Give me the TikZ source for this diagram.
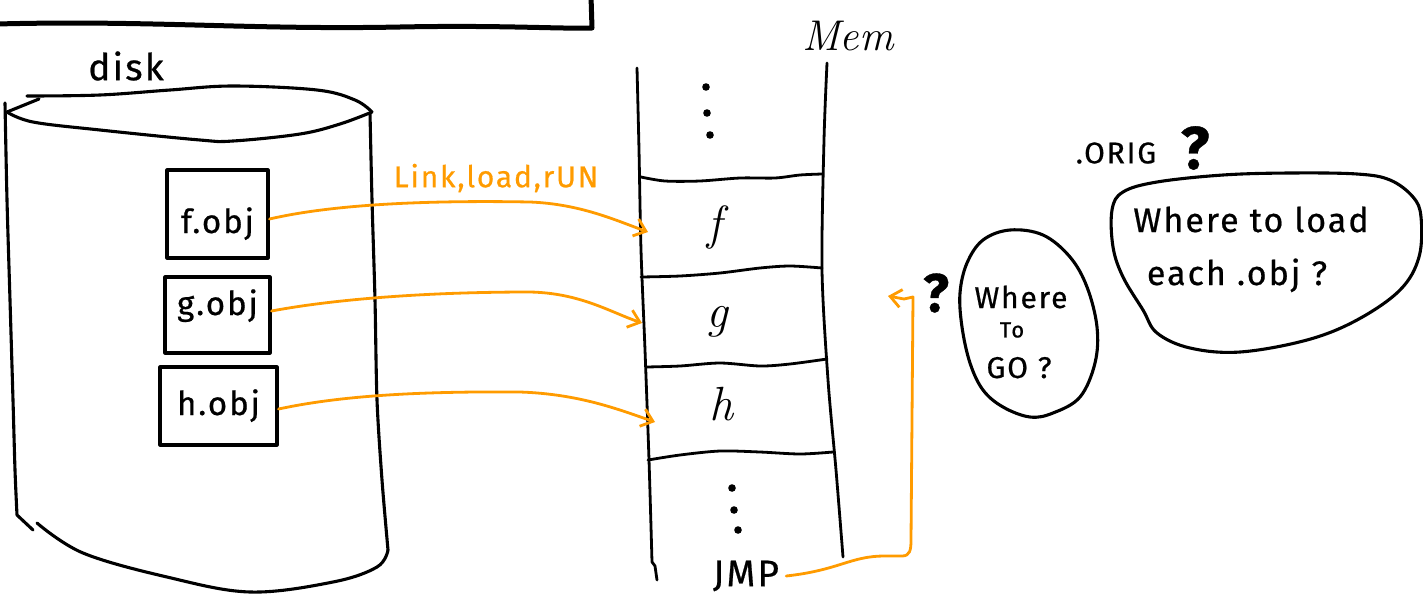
\documentclass[tikz,border=0pt]{standalone}
\usepackage{fontspec}
\newfontfamily\handfont{Fira Sans}[LetterSpace=6, FakeBold=0.6]
\usetikzlibrary{arrows.meta}
\definecolor{penorange}{RGB}{255,155,0}

\tikzset{
  ink/.style={line width=3.1pt, line cap=round, line join=round},
  wall/.style={line width=2.8pt, line cap=round, line join=round},
  link/.style={draw=penorange, line width=2.8pt, line cap=round, line join=round,
    -{Straight Barb[length=11pt,width=18pt]}},
  hand/.style={font=\handfont\fontsize{#1}{#1}\selectfont, inner sep=0pt},
  bigq/.style={font=\handfont\bfseries\fontsize{#1}{#1}\selectfont, inner sep=0pt},
  objbox/.style={draw, line width=3.1pt, line join=round, inner sep=0pt,
    font=\handfont\fontsize{33}{33}\selectfont},
  cellname/.style={font=\itshape\fontsize{48}{48}\selectfont, inner sep=0pt},
  dot/.style={fill=black},
}

\begin{document}
\begin{tikzpicture}[x=1pt,y=-1pt]
\useasboundingbox (0,0) rectangle (1423,595);

% corner of the box above
\draw[line width=5pt, line cap=round, line join=round]
  (-3,24) .. controls (150,20) and (250,30) .. (400,27)
  .. controls (500,25) and (560,29) .. (592,28) -- (591,-4);

% disk cylinder
\node[hand=37] (disk) at (126,66) {disk};
\draw[ink] plot[smooth, tension=0.6] coordinates
  {(27,96) (100,95) (170,90) (233,86) (317,90) (355,100) (372,112)};
\draw[ink] plot[smooth, tension=0.6] coordinates
  {(7,112) (33,122) (100,130) (200,140) (233,141) (300,134) (340,124) (372,112)};
\draw[ink] (7,112) -- (39,99);
\draw[ink] plot[smooth, tension=0.5] coordinates
  {(5,103) (7,200) (10,300) (13,400) (15,470) (17,515)} -- (33,530);
\draw[ink] plot[smooth, tension=0.6] coordinates
  {(37,523) (83,553) (167,577) (250,592) (333,582) (377,567) (388,550)};
\draw[ink] plot[smooth, tension=0.5] coordinates
  {(370,113) (372,200) (375,300) (377,400) (382,480) (388,550)};

% object files
\node[objbox, minimum width=101pt, text height=63pt, text depth=25pt] (fobj) at (217.5,214) {f.obj};
\node[objbox, minimum width=105pt, text height=38pt, text depth=38pt] (gobj) at (217.5,315) {g.obj};
\node[objbox, minimum width=117pt, text height=48pt, text depth=30pt] (hobj) at (218.5,406) {h.obj};

% memory column
\node[font=\itshape\fontsize{43}{43}\selectfont, inner sep=0pt] (mem) at (848,36) {Mem};
\draw[wall] plot[smooth, tension=0.5] coordinates
  {(637,68) (639,150) (641,250) (645,350) (649,460) (652,562)} -- (655,566) -- (657,580);
\draw[wall] plot[smooth, tension=0.5] coordinates
  {(827,63) (824,140) (822,270) (828,380) (836,470) (843,557)};
\draw[wall] plot[smooth] coordinates {(641,177) (665,181) (700,181) (740,178) (775,178) (800,175) (822,174)};
\draw[wall] plot[smooth] coordinates {(641,277) (680,276) (720,273) (760,268) (790,266) (822,268)};
\draw[wall] plot[smooth] coordinates {(646,367) (680,366) (720,363) (760,366) (790,364) (827,359)};
\draw[wall] plot[smooth] coordinates {(648,460) (680,455) (720,451) (760,452) (800,454) (833,452)};
\foreach \p in {(706,87),(707,113),(710,135),(732,488),(734,510),(738,530)}
  \fill[dot] \p circle (3.8pt);

\node[cellname] (cf) at (715,227) {f};
\node[cellname] (cg) at (717,322) {g};
\node[cellname] (ch) at (721,404) {h};
\node[hand=37] (jmp) at (746,576) {JMP};

\coordinate (fin) at (648,232);
\coordinate (gin) at (642,323);
\coordinate (hin) at (655,422);
\coordinate (back) at (888,296);

% loading the object files
\node[hand=30, text=penorange] (steps) at (496,178) {Link,load,rUN};
\draw[link] ([yshift=-5pt]fobj.east) .. controls (330,205) and (420,200) .. (530,202)
  .. controls (580,204) and (615,220) .. (fin);
\draw[link] ([yshift=4pt]gobj.east) .. controls (330,300) and (420,292) .. (530,292)
  .. controls (580,293) and (610,312) .. (gin);
\draw[link] ([yshift=-3pt]hobj.east) .. controls (330,398) and (400,391) .. (520,392)
  .. controls (580,394) and (620,410) .. (hin);

% the jump
\draw[link] ([xshift=7pt]jmp.east) .. controls (840,570) and (850,556) .. (885,556) -- (902,556)
  .. controls (910,556) and (911,550) .. (911,540) -- (913,297) -- (904,299) -- (back);

% questions
\node[bigq=54] (q1) at (936,293) {?};
\draw[ink] plot[smooth cycle, tension=0.6] coordinates
  {(1010,230) (1043,235) (1070,257) (1087,287) (1097,327) (1095,363) (1080,397) (1053,413)
   (1030,417) (1003,407) (983,390) (970,363) (962,327) (960,293) (967,263) (983,240)};
\node[hand=30, anchor=base] (where) at (1021,308) {Where};
\node[hand=22] (to) at (1012,330) {To};
\node[hand=30, anchor=base] (go) at (1019,378) {GO ?};

\node[hand=30] (orig) at (1116,153) {.ORIG};
\node[bigq=60] (q2) at (1195,148) {?};
\draw[ink] plot[smooth cycle, tension=0.6] coordinates
  {(1112,210) (1123,192) (1157,182) (1223,175) (1290,173) (1357,174) (1390,180) (1413,197)
   (1421,217) (1419,257) (1400,290) (1357,320) (1307,340) (1240,352) (1190,348) (1157,333)
   (1143,310) (1123,277) (1113,247)};
\node[hand=34, anchor=base] (load) at (1251,232) {Where to load};
\node[hand=34, anchor=base] (each) at (1237,285) {each .obj ?};
\end{tikzpicture}
\end{document}
